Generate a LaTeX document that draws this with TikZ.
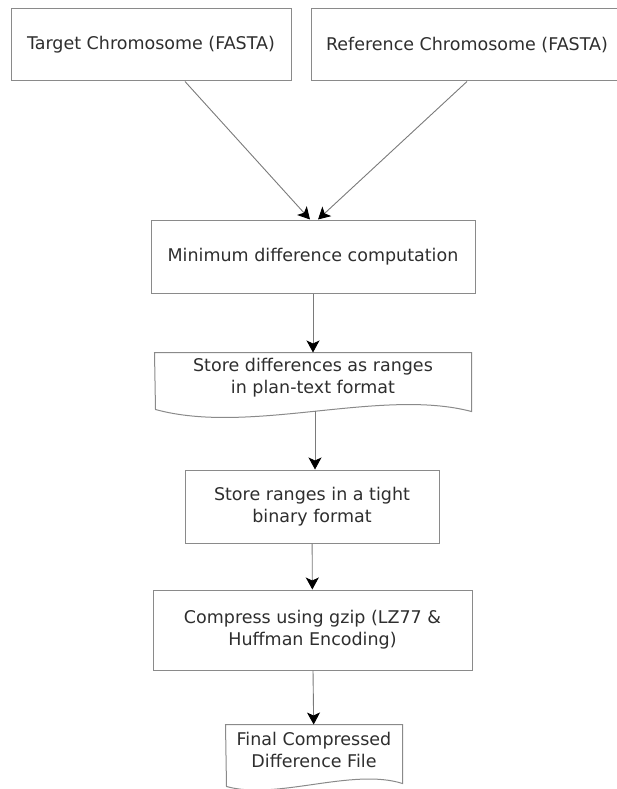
\documentclass[tikz,border=0pt]{standalone}
\usepackage{fontspec}
\setmainfont{DejaVu Sans}
\usetikzlibrary{arrows.meta}
\definecolor{framegray}{HTML}{8A8A8A}
\definecolor{linegray}{HTML}{7A7A7A}
\definecolor{textgray}{HTML}{2E2E2E}
\begin{document}
\begin{tikzpicture}[x=1pt, y=-1pt,
	box/.style={rectangle, draw=framegray, line width=1pt, align=center, text=textgray, inner sep=0pt, font=\fontsize{17.5}{22}\selectfont},
	doc/.style={box, draw=none},
	frame/.style={draw=framegray, line width=1pt},
	flow/.style={draw=linegray, line width=0.9pt, -{Stealth[length=12pt, width=13pt, inset=3pt, color=black, fill=black]}}]
		\useasboundingbox (0, 0) rectangle (616, 789);
		% inputs
		\node[box, minimum width=280, minimum height=72] (target) at (151, 45) {Target Chromosome (FASTA)};
		\node[box, minimum width=312, minimum height=72] (ref) at (467, 45) {Reference Chromosome (FASTA)};
		% processing chain
		\node[box, minimum width=324, minimum height=73] (mindiff) at (313, 256.5) {Minimum difference computation};
		\node[doc, minimum width=316, minimum height=50] (store) at (313, 378) {Store differences as ranges\\in plan-text format};
		\draw[frame] (store.north west) -- (store.north east) -- (store.south east) -- ++(0, 8)
			.. controls +(-91, -24) and +(95, 26) .. ++(-316, -2) coordinate[pos=0.5] (store-b) -- cycle;
		\node[box, minimum width=254, minimum height=73] (tight) at (312, 506.5) {Store ranges in a tight\\binary format};
		\node[box, minimum width=319, minimum height=80] (gzip) at (312.5, 630) {Compress using gzip (LZ77 \&\\Huffman Encoding)};
		\node[doc, minimum width=176, minimum height=50] (final) at (314, 750) {Final Compressed\\Difference File};
		\draw[frame] (final.north west) -- (final.north east) -- (final.south east) -- ++(0, 8)
			.. controls +(-50, -16) and +(50, 14) .. ++(-176, 3) -- cycle;
		% connectors
		\draw[flow] ([xshift=34pt]target.south) -- ([xshift=-3pt]mindiff.north);
		\draw[flow] (ref.south) -- ([xshift=5pt]mindiff.north);
		\draw[flow] (mindiff) -- (store);
		\draw[flow] (store-b) -- (store-b |- tight.north);
		\draw[flow] (tight) -- (gzip);
		\draw[flow] (gzip) -- (final);
\end{tikzpicture}
\end{document}
